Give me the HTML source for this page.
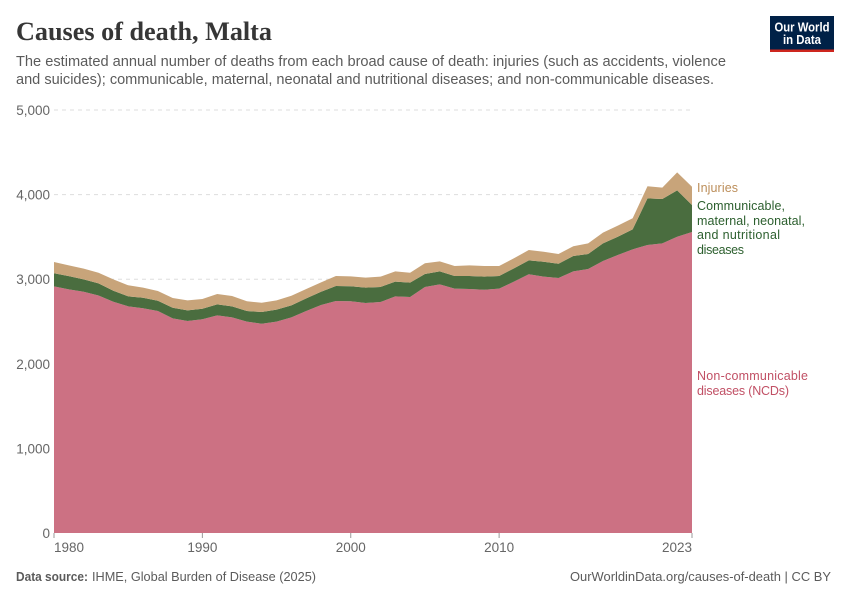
<!DOCTYPE html>
<html lang="en">
<head>
<meta charset="utf-8">
<title>Causes of death, Malta</title>
<style>
html,body{margin:0;padding:0;background:#fff;}
svg{display:block;font-family:"Liberation Sans",sans-serif;}
</style>
</head>
<body>
<svg id="chart" width="850" height="600" viewBox="0 0 850 600" xmlns="http://www.w3.org/2000/svg">
  <text x="16" y="40" font-family="'Liberation Serif',serif" font-weight="700" font-size="26" fill="#363636" textLength="256" lengthAdjust="spacingAndGlyphs">Causes of death, Malta</text>
  <text x="16" y="66" font-size="14.5" fill="#5b5b5b" textLength="710" lengthAdjust="spacingAndGlyphs">The estimated annual number of deaths from each broad cause of death: injuries (such as accidents, violence</text>
  <text x="16" y="84" font-size="14.5" fill="#5b5b5b" textLength="698" lengthAdjust="spacingAndGlyphs">and suicides); communicable, maternal, neonatal and nutritional diseases; and non-communicable diseases.</text>

  <g>
    <rect x="770" y="16" width="64" height="36" fill="#002147"/>
    <rect x="770" y="49.5" width="64" height="2.5" fill="#ce261e"/>
    <text x="802" y="31.5" text-anchor="middle" font-size="12.5" font-weight="700" fill="#fff" textLength="55" lengthAdjust="spacingAndGlyphs">Our World</text>
    <text x="802" y="44" text-anchor="middle" font-size="12.5" font-weight="700" fill="#fff" textLength="38" lengthAdjust="spacingAndGlyphs">in Data</text>
  </g>

  <g id="grid"></g>
  <g id="areas"></g>
  <g id="yticks"></g>
  <g id="xticks"></g>

  <g>
    <text x="697" y="192" font-size="12.5" fill="#bc8e5a" textLength="41" lengthAdjust="spacing">Injuries</text>
    <g font-size="12.5" fill="#2c5f2e">
      <text x="697" y="210" textLength="88" lengthAdjust="spacing">Communicable,</text>
      <text x="697" y="225" textLength="108" lengthAdjust="spacing">maternal, neonatal,</text>
      <text x="697" y="239" textLength="83" lengthAdjust="spacing">and nutritional</text>
      <text x="697" y="254" textLength="47" lengthAdjust="spacing">diseases</text>
    </g>
    <g font-size="12.5" fill="#c15065">
      <text x="697" y="380" textLength="111" lengthAdjust="spacing">Non-communicable</text>
      <text x="697" y="395" textLength="92" lengthAdjust="spacing">diseases (NCDs)</text>
    </g>
  </g>

  <text x="16" y="581" font-size="12.5" font-weight="700" fill="#5b5b5b" textLength="72" lengthAdjust="spacingAndGlyphs">Data source:</text>
  <text x="92" y="581" font-size="12.5" fill="#5b5b5b" textLength="224" lengthAdjust="spacingAndGlyphs">IHME, Global Burden of Disease (2025)</text>
  <text x="570" y="581" font-size="12.5" fill="#5b5b5b" textLength="261" lengthAdjust="spacingAndGlyphs">OurWorldinData.org/causes-of-death | CC BY</text>
</svg>

<script>
const startYear = 1980;
const ncds = [2915,2880,2852,2808,2734,2679,2656,2624,2537,2506,2526,2573,2549,2498,2474,2498,2549,2624,2695,2742,2739,2719,2730,2797,2790,2908,2939,2888,2884,2876,2888,2971,3058,3030,3014,3093,3121,3215,3286,3353,3404,3424,3502,3558];
const communicable = [155,157,146,142,130,118,125,122,126,126,125,130,130,126,138,142,142,150,157,178,177,181,178,174,169,153,154,150,154,154,150,157,165,177,169,181,177,209,216,236,552,524,548,319];
const injuries = [133,126,127,127,134,131,119,114,115,118,115,122,122,115,110,110,114,110,111,118,118,118,122,122,118,127,118,118,125,126,118,119,122,118,115,115,126,126,131,131,142,134,213,216];
const yTickValues = [0,1000,2000,3000,4000,5000];
const yTickLabels = ["0","1,000","2,000","3,000","4,000","5,000"];
const xTickValues = [1980,1990,2000,2010,2023];
const xTickLabels = ["1980","1990","2000","2010","2023"];

const NS = "http://www.w3.org/2000/svg";
const plot = {left: 54, right: 692, top: 110, bottom: 533, yMax: 5000};

function xScale(year) {
  const endYear = startYear + ncds.length - 1;
  return plot.left + (year - startYear) / (endYear - startYear) * (plot.right - plot.left);
}
function yScale(value) {
  return plot.bottom - value / plot.yMax * (plot.bottom - plot.top);
}
function make(tag, attrs) {
  const el = document.createElementNS(NS, tag);
  for (const k in attrs) el.setAttribute(k, attrs[k]);
  return el;
}

const gridGroup = document.getElementById("grid");
const yGroup = document.getElementById("yticks");
const xGroup = document.getElementById("xticks");
const areaGroup = document.getElementById("areas");

yTickValues.forEach(function (v, i) {
  if (v > 0) {
    const line = make("line", {x1: plot.left, x2: plot.right, y1: yScale(v), y2: yScale(v), stroke: "#dddddd", "stroke-width": 1, "stroke-dasharray": "4 4"});
    
    
    gridGroup.appendChild(line);
  }
  const label = make("text", {x: 50, y: yScale(v) + 5, "text-anchor": "end", "font-size": 13.5, fill: "#666666"});
  
  
  label.textContent = yTickLabels[i];
  yGroup.appendChild(label);
});

const stackNcd = ncds.slice();
const stackComm = ncds.map(function (v, i) { return v + communicable[i]; });
const stackInj = stackComm.map(function (v, i) { return v + injuries[i]; });

function bandPath(upper, lower) {
  let d = "";
  upper.forEach(function (v, i) {
    d += (i ? "L" : "M") + xScale(startYear + i).toFixed(2) + " " + yScale(v).toFixed(2);
  });
  for (let i = upper.length - 1; i >= 0; i--) {
    d += "L" + xScale(startYear + i).toFixed(2) + " " + yScale(lower ? lower[i] : 0).toFixed(2);
  }
  return d + "Z";
}

const areaNcd = make("path", {d: bandPath(stackNcd, null), fill: "#cc7183"});


areaGroup.appendChild(areaNcd);

const areaComm = make("path", {d: bandPath(stackComm, stackNcd), fill: "#4a6d3f"});


areaGroup.appendChild(areaComm);

const areaInj = make("path", {d: bandPath(stackInj, stackComm), fill: "#c8a47a"});


areaGroup.appendChild(areaInj);

xTickValues.forEach(function (year, i) {
  const x = xScale(year);
  const tick = make("line", {x1: x, x2: x, y1: plot.bottom, y2: plot.bottom + 5, stroke: "#999999", "stroke-width": 1});
  
  
  xGroup.appendChild(tick);
  const anchor = i === 0 ? "start" : (i === xTickValues.length - 1 ? "end" : "middle");
  const label = make("text", {x: x, y: plot.bottom + 19, "text-anchor": anchor, "font-size": 13.5, fill: "#666666"});
  
  
  label.textContent = xTickLabels[i];
  xGroup.appendChild(label);
});
</script>
</body>
</html>
